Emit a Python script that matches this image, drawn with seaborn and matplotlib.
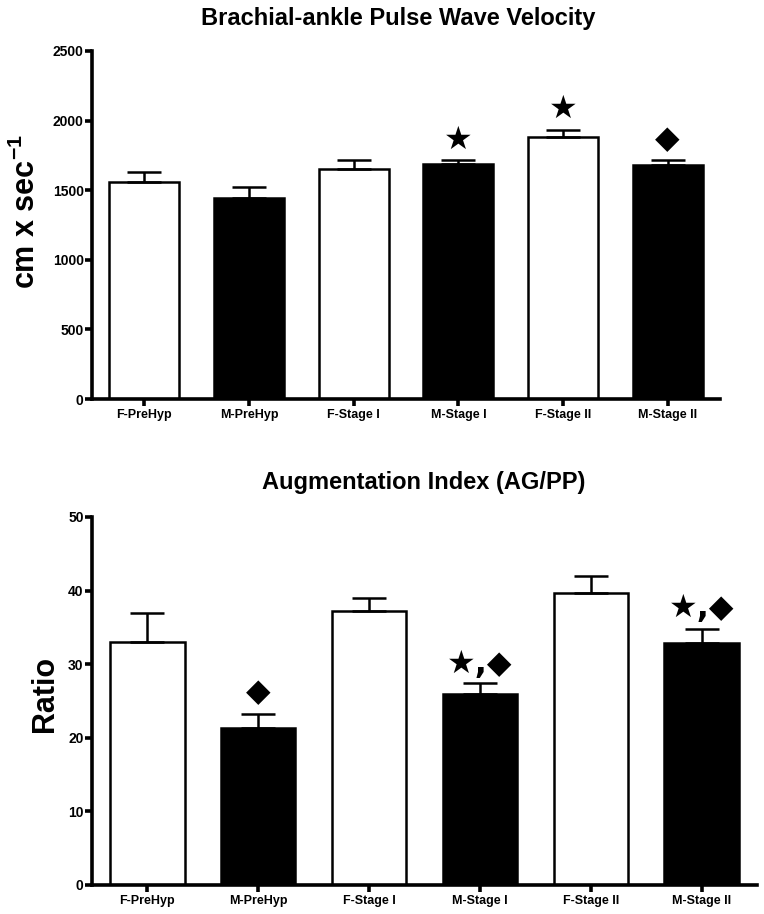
import matplotlib
matplotlib.use("Agg")
import matplotlib.pyplot as plt
import seaborn as sns
import numpy as np

# data
groups = ["F-PreHyp", "M-PreHyp", "F-Stage I", "M-Stage I", "F-Stage II", "M-Stage II"]
bar_colors = ["white", "black", "white", "black", "white", "black"]

pwv_mean = [1560, 1445, 1655, 1685, 1880, 1680]
pwv_sem = [70, 78, 60, 32, 50, 36]
pwv_marks = ["", "", "", "★", "★", "◆"]
pwv_mark_y = [0, 0, 0, 1861, 2078, 1861]

aix_mean = [33.0, 21.3, 37.2, 25.9, 39.7, 32.9]
aix_sem = [4.0, 2.0, 1.8, 1.55, 2.3, 1.9]
aix_marks = ["", "◆", "", "★,◆", "", "★,◆"]
aix_mark_y = [0, 26.1, 0, 29.9, 0, 37.6]

sns.set_style("ticks")
plt.rcParams["font.family"] = ["Liberation Sans Narrow", "Liberation Sans", "DejaVu Sans"]
plt.rcParams["font.weight"] = "bold"
plt.rcParams["mathtext.fontset"] = "custom"
plt.rcParams["mathtext.bf"] = "Liberation Sans:bold"
plt.rcParams["mathtext.rm"] = "Liberation Sans:bold"
for k in ["text.color", "axes.labelcolor", "xtick.color", "ytick.color", "axes.edgecolor"]:
    plt.rcParams[k] = "black"

W, H = 764, 914
fig = plt.figure(figsize=(W / 100, H / 100), dpi=100)


def axes_px(left, top, right, bottom):
    return fig.add_axes([left / W, 1 - bottom / H, (right - left) / W, (bottom - top) / H])


def draw_panel(ax, means, sems, marks, mark_y, ymax, step):
    sns.barplot(x=groups, y=means, hue=groups, palette=bar_colors, legend=False,
                edgecolor="black", linewidth=1.8, width=0.67, saturation=1, ax=ax)
    ax.errorbar(np.arange(len(groups)), means, yerr=[np.zeros(len(means)), sems],
                fmt="none", ecolor="black", elinewidth=1.8, capsize=12, capthick=1.8, zorder=5)
    for i, m in enumerate(marks):
        if m:
            ax.text(i, mark_y[i], m, ha="center", va="center", fontsize=23,
                    family=["DejaVu Sans"], color="black")
    ax.set_ylim(0, ymax)
    ax.set_yticks(np.arange(0, ymax + 1, step))
    ax.set_xlim(-0.5, 5.5)
    ax.set_xlabel("")
    ax.set_ylabel("")
    sns.despine(ax=ax)
    for s in ["left", "bottom"]:
        ax.spines[s].set_linewidth(2.6)
    ax.tick_params(axis="both", width=2.6, length=5, direction="out", colors="black")
    ax.tick_params(axis="y", labelsize=10, pad=1)
    ax.tick_params(axis="x", labelsize=9, pad=2)
    for lab in ax.get_xticklabels() + ax.get_yticklabels():
        lab.set_fontweight("bold")


ax1 = axes_px(92, 51, 720, 399)
draw_panel(ax1, pwv_mean, pwv_sem, pwv_marks, pwv_mark_y, 2500, 500)
fig.text(398 / W, 1 - 18 / H, "Brachial-ankle Pulse Wave Velocity", ha="center", va="center",
         fontsize=17, fontweight="bold")
fig.text(26 / W, 1 - 211 / H, r"cm x sec$^{\mathbf{-1}}$", ha="center", va="center", rotation=90,
         fontsize=22, fontweight="bold", family=["Liberation Sans", "DejaVu Sans"])

ax2 = axes_px(92, 517, 757, 885)
draw_panel(ax2, aix_mean, aix_sem, aix_marks, aix_mark_y, 50, 10)
fig.text(424 / W, 1 - 482 / H, "Augmentation Index (AG/PP)", ha="center", va="center",
         fontsize=17, fontweight="bold")
fig.text(45 / W, 1 - 694 / H, "Ratio", ha="center", va="center", rotation=90,
         fontsize=22, fontweight="bold", family=["Liberation Sans", "DejaVu Sans"])

fig.savefig("out.png", dpi=100, facecolor="white")
